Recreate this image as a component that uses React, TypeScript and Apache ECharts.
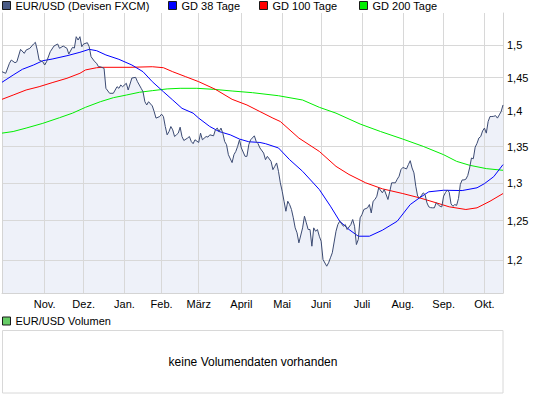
import React, { useEffect, useRef } from "react";
import * as echarts from "echarts";

const FONT = "'Liberation Sans', Arial, sans-serif";

// trading-day categories (weekdays, FX holidays skipped)
const startDate = "2009-09-30";
const endDate = "2010-10-15";
const holidays = ["12-25", "01-01"];

const monthLabels = ["Jan.", "Feb.", "März", "April", "Mai", "Juni", "Juli", "Aug.", "Sep.", "Okt.", "Nov.", "Dez."];

const yTicks = [1.2, 1.25, 1.3, 1.35, 1.4, 1.45, 1.5];
const yTickLabels = ["1,2", "1,25", "1,3", "1,35", "1,4", "1,45", "1,5"];

const priceDays = [0, 2, 4, 5, 7, 8, 10, 12, 13, 15, 17, 18, 19, 20, 22, 23, 24, 26, 28, 30, 31, 33, 35, 36, 38, 39, 40, 41, 42, 43, 44, 46, 47, 48, 50, 51, 52, 53, 55, 56, 58, 60, 62, 63, 64, 65, 67, 68, 70, 72, 73, 75, 76, 77, 78, 79, 81, 82, 83, 85, 86, 87, 88, 89, 90, 91, 92, 93, 94, 95, 96, 97, 98, 100, 101, 102, 103, 104, 106, 107, 108, 110, 111, 112, 114, 115, 116, 117, 118, 119, 120, 121, 122, 124, 125, 126, 127, 128, 129, 131, 132, 133, 134, 136, 137, 138, 139, 141, 142, 143, 145, 146, 147, 148, 149, 150, 151, 152, 153, 154, 155, 156, 157, 158, 159, 160, 162, 163, 164, 165, 166, 167, 168, 169, 170, 171, 172, 173, 175, 176, 177, 178, 180, 181, 182, 184, 185, 186, 188, 189, 190, 191, 192, 193, 194, 195, 197, 198, 199, 200, 201, 202, 203, 205, 206, 208, 209, 210, 212, 213, 214, 215, 216, 217, 218, 219, 220, 221, 222, 223, 224, 225, 226, 227, 228, 229, 230, 231, 232, 233, 234, 235, 236, 237, 238, 239, 240, 241, 242, 243, 244, 245, 246, 247, 248, 249, 250, 251, 252, 253, 254, 255, 256, 257, 258, 259, 260, 261, 262, 263, 264, 265, 266, 267, 268, 269, 270];
const priceValues = [1.459, 1.4566, 1.4718, 1.4768, 1.4727, 1.4742, 1.4933, 1.4871, 1.4922, 1.4949, 1.5016, 1.5042, 1.4922, 1.4768, 1.4742, 1.4692, 1.4742, 1.4896, 1.4984, 1.5016, 1.4949, 1.4984, 1.4949, 1.4861, 1.4964, 1.4953, 1.513, 1.5078, 1.513, 1.4974, 1.5016, 1.5036, 1.4974, 1.4819, 1.4742, 1.4718, 1.4666, 1.4666, 1.4642, 1.4341, 1.4267, 1.4267, 1.4365, 1.4341, 1.439, 1.4365, 1.4416, 1.4316, 1.4495, 1.4505, 1.444, 1.4341, 1.429, 1.4143, 1.4095, 1.4143, 1.4081, 1.3999, 1.3904, 1.3927, 1.3961, 1.3927, 1.3783, 1.3665, 1.3712, 1.3783, 1.3736, 1.3641, 1.3665, 1.3689, 1.3774, 1.3641, 1.3585, 1.3619, 1.3641, 1.3571, 1.354, 1.3595, 1.3557, 1.3689, 1.3595, 1.3641, 1.3633, 1.3665, 1.3651, 1.3736, 1.3761, 1.3712, 1.3761, 1.3689, 1.3571, 1.3526, 1.3386, 1.3277, 1.3386, 1.3432, 1.3502, 1.3595, 1.348, 1.3363, 1.3363, 1.3526, 1.3595, 1.3651, 1.3571, 1.354, 1.348, 1.3409, 1.3317, 1.3363, 1.3294, 1.318, 1.3225, 1.3272, 1.3157, 1.3001, 1.2888, 1.2755, 1.2623, 1.2755, 1.2711, 1.2646, 1.2537, 1.2407, 1.2343, 1.2216, 1.2407, 1.2558, 1.2472, 1.2386, 1.2386, 1.2173, 1.2407, 1.2364, 1.2386, 1.23, 1.2236, 1.2006, 1.1923, 1.1965, 1.2027, 1.209, 1.2364, 1.245, 1.2493, 1.2428, 1.245, 1.2386, 1.245, 1.2515, 1.2428, 1.2194, 1.2258, 1.2537, 1.258, 1.2646, 1.2668, 1.2711, 1.2601, 1.2755, 1.2778, 1.2821, 1.2934, 1.2867, 1.2911, 1.2778, 1.2888, 1.3001, 1.3001, 1.305, 1.309, 1.318, 1.321, 1.32, 1.319, 1.3249, 1.3303, 1.3203, 1.3136, 1.2955, 1.2821, 1.28, 1.283, 1.2866, 1.2843, 1.2734, 1.2681, 1.267, 1.2668, 1.2668, 1.2734, 1.2711, 1.269, 1.268, 1.2823, 1.287, 1.2905, 1.2875, 1.272, 1.2688, 1.2711, 1.27, 1.279, 1.298, 1.304, 1.304, 1.305, 1.31, 1.3203, 1.334, 1.333, 1.349, 1.3545, 1.362, 1.3641, 1.372, 1.3761, 1.3689, 1.3855, 1.3927, 1.3927, 1.393, 1.394, 1.3904, 1.3951, 1.3999, 1.4095];

const ma38Days = [0, 6, 11, 17, 22, 27, 35, 42, 47, 51, 56, 63, 70, 76, 81, 87, 92, 97, 103, 106, 112, 117, 123, 128, 133, 139, 142, 149, 155, 162, 171, 177, 182, 187, 192, 198, 205, 213, 220, 225, 230, 238, 248, 256, 260, 265, 270];
const ma38Values = [1.4431, 1.454, 1.4627, 1.4692, 1.4758, 1.4783, 1.4834, 1.4887, 1.4933, 1.4912, 1.4846, 1.4779, 1.4692, 1.459, 1.444, 1.429, 1.4168, 1.4046, 1.3976, 1.3904, 1.3783, 1.3712, 1.3665, 1.3605, 1.3567, 1.3557, 1.354, 1.348, 1.3317, 1.3157, 1.2911, 1.269, 1.2493, 1.2386, 1.23, 1.23, 1.2377, 1.2493, 1.2711, 1.28, 1.288, 1.2901, 1.2897, 1.2934, 1.299, 1.3084, 1.3249];

const ma100Days = [0, 6, 13, 20, 27, 35, 42, 45, 51, 54, 69, 81, 87, 92, 99, 106, 115, 124, 132, 139, 146, 150, 160, 171, 180, 187, 196, 205, 216, 225, 234, 241, 250, 256, 263, 270];
const ma100Values = [1.4178, 1.4241, 1.4316, 1.4365, 1.4425, 1.4491, 1.4566, 1.4617, 1.4651, 1.4657, 1.4657, 1.4666, 1.4651, 1.459, 1.4515, 1.444, 1.4326, 1.4178, 1.4095, 1.3999, 1.3904, 1.3855, 1.3619, 1.3432, 1.3225, 1.3114, 1.3001, 1.292, 1.2857, 1.28, 1.2734, 1.2681, 1.2646, 1.2668, 1.2755, 1.2857];

const ma200Days = [0, 6, 13, 22, 31, 38, 45, 53, 60, 67, 74, 81, 89, 96, 105, 114, 124, 135, 149, 162, 171, 180, 193, 204, 216, 227, 238, 245, 252, 261, 270];
const ma200Values = [1.3689, 1.3712, 1.3761, 1.3829, 1.391, 1.3976, 1.4061, 1.4143, 1.4202, 1.4241, 1.4282, 1.4306, 1.4332, 1.4341, 1.4341, 1.4326, 1.4301, 1.4276, 1.4231, 1.4168, 1.4061, 1.3976, 1.3819, 1.3712, 1.3605, 1.3502, 1.3386, 1.3294, 1.324, 1.3194, 1.3171];

function buildTradingDays(): string[] {
  const out: string[] = [];
  const d = new Date(startDate + "T00:00:00Z");
  const end = new Date(endDate + "T00:00:00Z").getTime();
  while (d.getTime() <= end) {
    const iso = d.toISOString().slice(0, 10);
    const wd = d.getUTCDay();
    if (wd !== 0 && wd !== 6 && !holidays.includes(iso.slice(5))) out.push(iso);
    d.setUTCDate(d.getUTCDate() + 1);
  }
  return out;
}

const pairs = (xs: number[], ys: number[]) => xs.map((x, i) => [x, ys[i]]);

export default function App() {
  const ref = useRef<HTMLDivElement>(null);
  useEffect(() => {
    if (!ref.current) return;
    const chart = echarts.init(ref.current, undefined, { renderer: "svg" });
    const days = buildTradingDays();
    const isMonthStart = (i: number) =>
      i > 3 && i < days.length && days[i].slice(5, 7) !== days[i - 1].slice(5, 7);

    const legendBase = {
      orient: "horizontal",
      padding: 0,
      itemWidth: 8,
      itemHeight: 8,
      icon: "rect",
      selectedMode: false,
      itemStyle: { borderColor: "#1a1a1a", borderWidth: 1 },
      textStyle: { fontSize: 11, color: "#000", fontFamily: FONT },
    };

    const price = pairs(priceDays, priceValues);

    chart.setOption({
      animation: false,
      backgroundColor: "#fff",
      textStyle: { fontFamily: FONT },
      legend: [
        { ...legendBase, left: 2, top: 0, data: [{ name: "EUR/USD (Devisen FXCM)", itemStyle: { color: "#4a5b86" } }] },
        { ...legendBase, left: 168, top: 0, data: ["GD 38 Tage"] },
        { ...legendBase, left: 259, top: 0, data: ["GD 100 Tage"] },
        { ...legendBase, left: 359, top: 0, data: ["GD 200 Tage"] },
        { ...legendBase, left: 2, top: 315.5, data: [{ name: "EUR/USD Volumen", itemStyle: { color: "#66cc66" } }] },
      ],
      grid: { left: 2, right: 42, top: 13, bottom: 105 },
      xAxis: {
        type: "category",
        data: days,
        boundaryGap: false,
        z: 3,
        axisLine: { show: true, onZero: false, lineStyle: { color: "#d4d4d4" } },
        axisTick: { show: false },
        axisLabel: {
          interval: (i: number) => isMonthStart(i),
          formatter: (v: string) => monthLabels[parseInt(v.slice(5, 7), 10) - 1],
          color: "#000",
          fontSize: 11,
          fontFamily: FONT,
          margin: 5,
        },
        splitLine: {
          show: true,
          interval: (i: number) => isMonthStart(i),
          lineStyle: { color: "#d8d8d8", width: 1 },
        },
      },
      yAxis: [
        {
          type: "log",
          logBase: 10,
          min: 1.1596,
          max: 1.5507,
          position: "right",
          z: 3,
          axisLine: { show: true, lineStyle: { color: "#d4d4d4" } },
          axisTick: { show: false },
          axisLabel: { show: false },
          splitLine: { show: false },
        },
        {
          type: "value",
          min: 0,
          max: 1,
          position: "left",
          z: 3,
          axisLine: { show: true, onZero: false, lineStyle: { color: "#d4d4d4" } },
          axisTick: { show: false },
          axisLabel: { show: false },
          splitLine: { show: false },
        },
      ],
      series: [
        {
          name: "fill",
          type: "line",
          data: price,
          z: 1,
          showSymbol: false,
          silent: true,
          lineStyle: { width: 0, opacity: 0 },
          areaStyle: { color: "#eef1f9", opacity: 1, origin: "start" },
          markLine: {
            z: 3,
            silent: true,
            symbol: ["none", "none"],
            animation: false,
            lineStyle: { color: "#d8d8d8", width: 1, type: "solid" },
            label: {
              show: true,
              position: "end",
              distance: 4,
              color: "#000",
              fontSize: 11,
              fontFamily: FONT,
              formatter: (p: any) => yTickLabels[yTicks.indexOf(p.value)],
            },
            emphasis: { disabled: true },
            data: yTicks.map((v) => ({ yAxis: v })),
          },
        },
        {
          name: "GD 200 Tage",
          type: "line",
          data: pairs(ma200Days, ma200Values),
          z: 4,
          showSymbol: false,
          color: "#00ee00",
          lineStyle: { width: 1, color: "#00ee00" },
        },
        {
          name: "GD 100 Tage",
          type: "line",
          data: pairs(ma100Days, ma100Values),
          z: 4,
          showSymbol: false,
          color: "#ff0000",
          lineStyle: { width: 1, color: "#ff0000" },
        },
        {
          name: "GD 38 Tage",
          type: "line",
          data: pairs(ma38Days, ma38Values),
          z: 4,
          showSymbol: false,
          color: "#0000ff",
          lineStyle: { width: 1, color: "#0000ff" },
        },
        {
          name: "EUR/USD (Devisen FXCM)",
          type: "line",
          data: price,
          z: 5,
          showSymbol: false,
          color: "#3b4a72",
          lineStyle: { width: 1, color: "#3b4a72" },
        },
        {
          name: "EUR/USD Volumen",
          type: "line",
          data: [],
          color: "#66cc66",
        },
      ],
      graphic: [
        {
          type: "rect",
          silent: true,
          shape: { x: 2.5, y: 330.5, width: 500.5, height: 62.5 },
          style: { fill: "#fff", stroke: "#d8d8d8", lineWidth: 1 },
        },
        {
          type: "text",
          silent: true,
          x: 253,
          y: 362,
          style: {
            text: "keine Volumendaten vorhanden",
            fontSize: 12,
            fontFamily: FONT,
            fill: "#000",
            align: "center",
            verticalAlign: "middle",
          },
        },
      ],
    });
    return () => chart.dispose();
  }, []);
  return (
    <div
      ref={ref}
      style={{ position: "fixed", left: 0, top: 0, width: 545, height: 398, background: "#fff" }}
    />
  );
}
